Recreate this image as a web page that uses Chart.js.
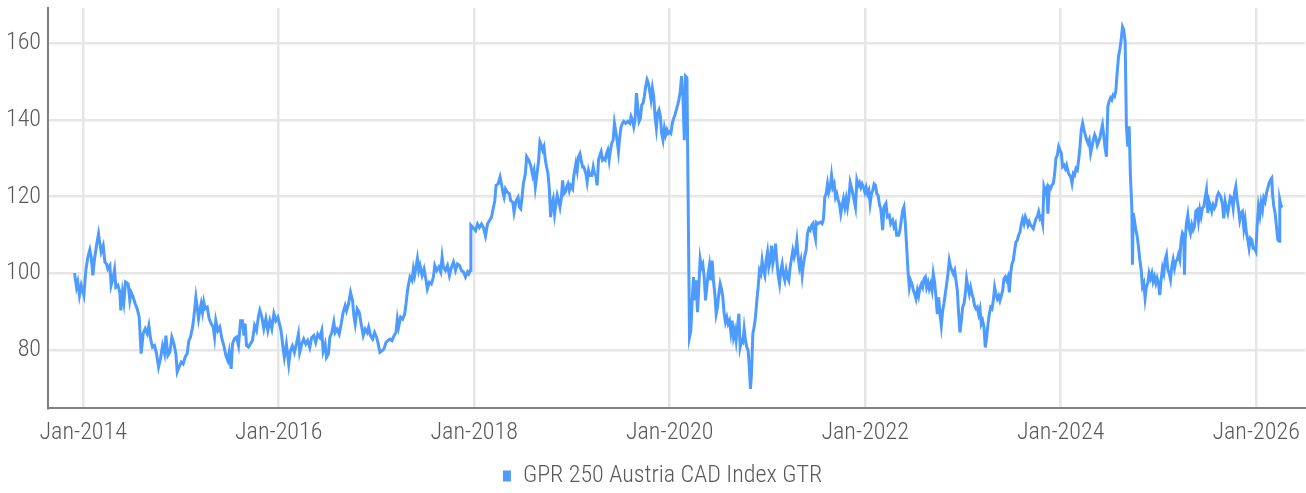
<!DOCTYPE html>
<html>
<head>
<meta charset="utf-8">
<script src="https://cdn.jsdelivr.net/npm/chart.js@4/dist/chart.umd.min.js"></script>
<style>
  html, body { margin: 0; padding: 0; background: #fff; }
  #chart { display: block; }
</style>
</head>
<body>
<canvas id="chart" width="1306" height="493"></canvas>
<script>
// GPR 250 Austria CAD Index GTR (x = decimal year)
const seriesName = 'GPR 250 Austria CAD Index GTR';

const dateYears = [
  2013.911, 2013.932, 2013.945, 2013.962, 2013.980, 2013.993, 2014.007, 2014.027, 2014.048, 2014.068,
  2014.082, 2014.099, 2014.116, 2014.136, 2014.157, 2014.171, 2014.184, 2014.205, 2014.222, 2014.239,
  2014.252, 2014.273, 2014.286, 2014.304, 2014.321, 2014.334, 2014.355, 2014.375, 2014.385, 2014.402,
  2014.416, 2014.433, 2014.460, 2014.477, 2014.491, 2014.512, 2014.532, 2014.552, 2014.573, 2014.593,
  2014.614, 2014.634, 2014.655, 2014.672, 2014.689, 2014.709, 2014.730, 2014.750, 2014.771, 2014.791,
  2014.812, 2014.832, 2014.846, 2014.866, 2014.887, 2014.907, 2014.928, 2014.948, 2014.962, 2014.982,
  2015.003, 2015.023, 2015.043, 2015.064, 2015.081, 2015.098, 2015.119, 2015.132, 2015.153, 2015.166,
  2015.180, 2015.194, 2015.207, 2015.221, 2015.234, 2015.248, 2015.269, 2015.289, 2015.310, 2015.330,
  2015.344, 2015.357, 2015.378, 2015.398, 2015.419, 2015.439, 2015.460, 2015.480, 2015.494, 2015.514,
  2015.528, 2015.548, 2015.569, 2015.589, 2015.610, 2015.630, 2015.644, 2015.657, 2015.671, 2015.691,
  2015.712, 2015.732, 2015.753, 2015.773, 2015.794, 2015.807, 2015.828, 2015.848, 2015.869, 2015.889,
  2015.910, 2015.930, 2015.951, 2015.971, 2015.992,
  2016.024, 2016.044, 2016.058, 2016.079, 2016.103, 2016.120, 2016.140, 2016.161, 2016.181, 2016.202,
  2016.215, 2016.236, 2016.256, 2016.277, 2016.297, 2016.318, 2016.338, 2016.359, 2016.379, 2016.400,
  2016.421, 2016.441, 2016.455, 2016.475, 2016.489, 2016.509, 2016.523, 2016.544, 2016.564, 2016.578,
  2016.598, 2016.619, 2016.639, 2016.660, 2016.680, 2016.694, 2016.715, 2016.735, 2016.756, 2016.769,
  2016.783, 2016.803, 2016.824, 2016.844, 2016.865, 2016.885, 2016.906, 2016.920, 2016.940, 2016.961,
  2016.981, 2017.002, 2017.015, 2017.036, 2017.056, 2017.077, 2017.097, 2017.118, 2017.139, 2017.159,
  2017.180, 2017.200, 2017.214, 2017.227, 2017.248, 2017.268, 2017.289, 2017.303, 2017.316, 2017.330,
  2017.344, 2017.364, 2017.378, 2017.391, 2017.405, 2017.419, 2017.433, 2017.446, 2017.467, 2017.487,
  2017.508, 2017.521, 2017.542, 2017.562, 2017.583, 2017.597, 2017.617, 2017.638, 2017.658, 2017.672,
  2017.685, 2017.706, 2017.727, 2017.747, 2017.768, 2017.788, 2017.809, 2017.829, 2017.850, 2017.870,
  2017.891, 2017.911, 2017.932, 2017.945, 2017.959, 2017.966,
  2018.014, 2018.034, 2018.054, 2018.075, 2018.095, 2018.116, 2018.136, 2018.156, 2018.177, 2018.190,
  2018.211, 2018.224, 2018.245, 2018.265, 2018.279, 2018.293, 2018.306, 2018.320, 2018.340, 2018.361,
  2018.374, 2018.395, 2018.408, 2018.429, 2018.449, 2018.463, 2018.476, 2018.490, 2018.503, 2018.524,
  2018.537, 2018.558, 2018.578, 2018.599, 2018.612, 2018.626, 2018.639, 2018.660, 2018.673, 2018.687,
  2018.701, 2018.714, 2018.728, 2018.741, 2018.755, 2018.769, 2018.782, 2018.796, 2018.809, 2018.823,
  2018.837, 2018.850, 2018.864, 2018.878, 2018.891, 2018.905, 2018.918, 2018.932, 2018.946, 2018.959,
  2018.973, 2018.986, 2019.007, 2019.020, 2019.041, 2019.054, 2019.068, 2019.082, 2019.095, 2019.109,
  2019.122, 2019.143, 2019.156, 2019.170, 2019.184, 2019.204, 2019.218, 2019.231, 2019.245, 2019.258,
  2019.272, 2019.286, 2019.299, 2019.313, 2019.326, 2019.340, 2019.354, 2019.367, 2019.381, 2019.394,
  2019.408, 2019.422, 2019.435, 2019.449, 2019.462, 2019.476, 2019.490, 2019.503, 2019.517, 2019.531,
  2019.551, 2019.571, 2019.592, 2019.605, 2019.619, 2019.633, 2019.646, 2019.660, 2019.673, 2019.687,
  2019.701, 2019.714, 2019.728, 2019.741, 2019.755, 2019.769, 2019.782, 2019.796, 2019.809, 2019.823,
  2019.837, 2019.850, 2019.864, 2019.878, 2019.891, 2019.905, 2019.918, 2019.932, 2019.946, 2019.959,
  2019.973, 2019.986, 2020.000, 2020.013, 2020.027, 2020.041, 2020.054, 2020.068, 2020.082, 2020.095,
  2020.109, 2020.122, 2020.136, 2020.150, 2020.163, 2020.177,
  2020.203, 2020.217, 2020.230, 2020.244, 2020.257, 2020.271, 2020.285, 2020.298, 2020.312, 2020.326,
  2020.339, 2020.353, 2020.367, 2020.380, 2020.394, 2020.407, 2020.421, 2020.435, 2020.448, 2020.462,
  2020.476, 2020.489, 2020.503, 2020.517, 2020.530, 2020.544, 2020.558, 2020.571, 2020.585, 2020.598,
  2020.612, 2020.626, 2020.639, 2020.653, 2020.667, 2020.680, 2020.694, 2020.708, 2020.721, 2020.735,
  2020.749, 2020.762, 2020.776, 2020.789, 2020.803, 2020.817, 2020.827, 2020.837, 2020.851, 2020.864,
  2020.878, 2020.892, 2020.905, 2020.919, 2020.933, 2020.946, 2020.960, 2020.974, 2020.987, 2021.001,
  2021.014, 2021.028, 2021.042, 2021.055, 2021.069, 2021.083, 2021.096, 2021.110, 2021.124, 2021.137,
  2021.151, 2021.165, 2021.178, 2021.192, 2021.205, 2021.219, 2021.233, 2021.246, 2021.260, 2021.274,
  2021.287, 2021.301, 2021.315, 2021.328, 2021.342, 2021.356, 2021.369, 2021.383, 2021.396, 2021.410,
  2021.424, 2021.437, 2021.451, 2021.465, 2021.478, 2021.492, 2021.499, 2021.519, 2021.540, 2021.560,
  2021.574, 2021.587, 2021.601, 2021.615, 2021.628, 2021.642, 2021.656, 2021.669, 2021.683, 2021.697,
  2021.710, 2021.724, 2021.737, 2021.751, 2021.765, 2021.778, 2021.792, 2021.806, 2021.819, 2021.833,
  2021.847, 2021.860, 2021.874, 2021.887, 2021.901, 2021.915, 2021.928, 2021.942, 2021.956, 2021.969,
  2021.983, 2021.997, 2022.010, 2022.024, 2022.038, 2022.051, 2022.065, 2022.078, 2022.092, 2022.106,
  2022.119, 2022.133, 2022.147, 2022.160,
  2022.179, 2022.193, 2022.213, 2022.227, 2022.247, 2022.261, 2022.281, 2022.295, 2022.309, 2022.322,
  2022.343, 2022.356, 2022.370, 2022.384, 2022.397, 2022.411, 2022.425, 2022.438, 2022.452, 2022.465,
  2022.479, 2022.493, 2022.506, 2022.520, 2022.534, 2022.547, 2022.561, 2022.575, 2022.588, 2022.602,
  2022.616, 2022.629, 2022.643, 2022.656, 2022.670, 2022.684, 2022.697, 2022.711, 2022.725, 2022.738,
  2022.752, 2022.766, 2022.779, 2022.793, 2022.806, 2022.820, 2022.834, 2022.847, 2022.861, 2022.875,
  2022.888, 2022.902, 2022.916, 2022.929, 2022.943, 2022.957, 2022.970, 2022.984, 2022.997, 2023.011,
  2023.025, 2023.038, 2023.052, 2023.066, 2023.079, 2023.093, 2023.107, 2023.120, 2023.134, 2023.147,
  2023.161, 2023.175, 2023.188, 2023.202, 2023.216, 2023.229, 2023.243, 2023.257, 2023.270, 2023.284,
  2023.298, 2023.311, 2023.325, 2023.338, 2023.352, 2023.366, 2023.379, 2023.393, 2023.407, 2023.420,
  2023.434, 2023.448, 2023.461, 2023.475, 2023.488, 2023.502, 2023.516, 2023.529, 2023.543, 2023.557,
  2023.570, 2023.584, 2023.598, 2023.611, 2023.625, 2023.639, 2023.652, 2023.666, 2023.679, 2023.693,
  2023.707, 2023.720, 2023.734, 2023.748, 2023.761, 2023.775, 2023.789, 2023.802, 2023.816, 2023.829,
  2023.843, 2023.857, 2023.870, 2023.884, 2023.898, 2023.911, 2023.925, 2023.939, 2023.952, 2023.966,
  2023.980, 2023.993, 2024.007, 2024.020, 2024.034, 2024.048, 2024.061, 2024.075, 2024.089, 2024.102,
  2024.116, 2024.130, 2024.143, 2024.157, 2024.171, 2024.184, 2024.198, 2024.211, 2024.225, 2024.239,
  2024.252, 2024.266, 2024.280, 2024.293, 2024.307, 2024.321, 2024.334, 2024.348, 2024.361, 2024.375,
  2024.401, 2024.414, 2024.428, 2024.442, 2024.455, 2024.469, 2024.483, 2024.496, 2024.510, 2024.523,
  2024.537, 2024.551, 2024.564, 2024.578, 2024.592, 2024.605, 2024.619, 2024.633, 2024.646, 2024.660,
  2024.673, 2024.687, 2024.701, 2024.714, 2024.728, 2024.735, 2024.742, 2024.755, 2024.769, 2024.783,
  2024.796, 2024.810, 2024.824, 2024.837, 2024.851, 2024.864, 2024.878, 2024.892, 2024.905, 2024.919,
  2024.933, 2024.946, 2024.960, 2024.974, 2024.987, 2025.001, 2025.014, 2025.028, 2025.042, 2025.055,
  2025.069, 2025.083, 2025.096, 2025.110, 2025.124, 2025.137, 2025.151, 2025.165, 2025.178, 2025.192,
  2025.205, 2025.219, 2025.233, 2025.246, 2025.260, 2025.267, 2025.274, 2025.287, 2025.301, 2025.315,
  2025.328, 2025.342, 2025.356, 2025.369, 2025.383, 2025.396, 2025.410, 2025.424, 2025.437, 2025.451,
  2025.465, 2025.478, 2025.492, 2025.506, 2025.519, 2025.533, 2025.546, 2025.560, 2025.574, 2025.587,
  2025.601, 2025.615, 2025.628, 2025.642, 2025.656, 2025.669, 2025.683, 2025.697, 2025.710, 2025.724,
  2025.737, 2025.751, 2025.765, 2025.778, 2025.792, 2025.806, 2025.819, 2025.833, 2025.847, 2025.860,
  2025.874, 2025.887, 2025.901, 2025.915, 2025.928, 2025.942, 2025.956, 2025.969, 2025.983, 2025.997,
  2026.010, 2026.024, 2026.038, 2026.051, 2026.065, 2026.078, 2026.092, 2026.106, 2026.119, 2026.133,
  2026.147, 2026.160, 2026.167, 2026.181, 2026.194, 2026.208, 2026.222, 2026.235, 2026.242, 2026.256,
  2026.269
];

const indexValues = [
  100.0, 96.3, 97.7, 94.2, 96.8, 95.5, 94.2, 100.7, 104.2, 106.1,
  104.2, 99.4, 103.7, 107.2, 110.3, 107.7, 105.5, 107.2, 102.9, 102.4,
  101.1, 102.0, 96.8, 98.5, 100.9, 96.3, 96.8, 95.0, 90.3, 95.0,
  92.4, 97.7, 97.2, 92.9, 95.0, 93.7, 92.0, 90.7, 88.5, 79.0,
  84.2, 85.5, 84.2, 86.3, 82.9, 80.7, 81.1, 79.0, 75.5, 77.7,
  81.1, 79.0, 83.7, 78.5, 79.4, 83.3, 81.6, 79.0, 74.2, 75.5,
  76.8, 76.3, 78.1, 79.0, 82.4, 83.3, 85.9, 88.5, 93.7, 91.1,
  88.1, 90.3, 92.0, 89.8, 92.4, 90.7, 91.1, 88.1, 86.8, 85.9,
  83.3, 87.6, 85.0, 85.9, 82.9, 81.1, 78.5, 77.2, 79.4, 75.0,
  81.6, 82.9, 83.3, 81.1, 87.6, 87.6, 83.7, 86.8, 81.1, 80.7,
  81.6, 82.4, 86.3, 85.0, 88.9, 90.3, 88.5, 85.5, 88.1, 85.0,
  87.6, 85.5, 89.4, 87.6, 88.5,
  85.0, 80.6, 78.0, 81.5, 76.2, 79.7, 81.0, 79.3, 81.5, 84.1,
  79.3, 81.5, 82.8, 81.5, 82.4, 80.6, 83.2, 83.7, 81.9, 84.1,
  83.2, 85.0, 79.7, 81.5, 78.0, 78.9, 83.2, 84.5, 87.2, 84.5,
  85.4, 84.1, 86.7, 89.8, 91.5, 90.2, 92.0, 95.0, 92.8, 88.9,
  86.7, 90.7, 89.8, 86.7, 83.7, 85.4, 84.5, 85.9, 83.7, 82.8,
  84.5, 83.2, 81.9, 79.3, 79.7, 80.2, 81.9, 82.4, 82.8, 82.4,
  83.7, 84.5, 88.0, 85.9, 88.5, 88.0, 89.3, 92.0, 95.0, 97.2,
  99.0, 98.1, 101.1, 99.4, 101.6, 103.8, 100.7, 102.0, 99.4, 101.1,
  98.1, 95.9, 97.6, 97.2, 99.0, 102.0, 100.7, 101.6, 100.3, 104.2,
  101.6, 100.7, 102.0, 99.4, 101.6, 102.9, 100.7, 102.4, 102.0, 100.7,
  100.3, 99.0, 100.3, 99.8, 100.7, 112.5,
  111.1, 112.8, 111.9, 112.8, 111.9, 109.7, 112.8, 113.7, 114.6, 116.3,
  118.9, 122.9, 123.3, 125.1, 123.3, 121.1, 119.8, 122.0, 121.1, 120.7,
  118.9, 118.5, 115.9, 118.9, 119.8, 117.2, 116.8, 119.8, 123.3, 126.0,
  130.4, 129.5, 128.2, 125.5, 126.8, 122.5, 125.1, 129.5, 134.3, 133.4,
  132.1, 133.0, 129.5, 127.7, 126.0, 122.0, 114.6, 118.1, 119.4, 115.4,
  118.1, 120.3, 118.9, 117.2, 119.4, 124.2, 120.7, 121.1, 122.5, 123.3,
  121.6, 122.9, 122.0, 125.5, 128.6, 126.8, 130.4, 131.2, 129.5, 127.7,
  127.7, 126.0, 123.8, 126.8, 125.5, 125.5, 127.7, 126.0, 125.5, 122.9,
  129.5, 130.8, 131.7, 129.5, 129.9, 129.5, 131.2, 132.1, 129.5, 132.1,
  133.9, 134.7, 139.1, 136.9, 134.7, 131.7, 135.6, 138.2, 139.1, 139.6,
  139.1, 139.6, 139.1, 140.9, 140.0, 138.2, 140.0, 147.0, 143.5, 139.6,
  140.4, 143.9, 144.4, 146.1, 148.8, 150.5, 149.6, 147.5, 145.3, 148.3,
  146.1, 140.9, 137.8, 141.8, 142.6, 140.9, 136.5, 134.7, 137.8, 136.1,
  137.4, 136.5, 136.9, 136.5, 139.1, 140.4, 141.3, 142.6, 143.9, 145.3,
  147.5, 151.4, 146.1, 134.7, 151.4, 151.0,
  83.3, 85.0, 92.9, 99.0, 92.9, 98.1, 89.8, 96.3, 103.7, 101.6,
  102.4, 99.0, 92.9, 96.3, 99.8, 102.0, 98.1, 103.3, 98.1, 94.6,
  89.4, 91.1, 94.6, 97.2, 95.9, 93.7, 89.4, 87.2, 88.5, 86.8,
  87.6, 84.6, 87.6, 83.3, 85.0, 82.4, 85.9, 89.4, 80.7, 82.4,
  82.0, 85.5, 82.4, 80.7, 79.8, 74.6, 69.8, 73.7, 84.2, 85.9,
  88.5, 92.9, 96.3, 100.7, 99.8, 103.3, 100.7, 99.4, 103.3, 105.5,
  101.6, 103.3, 107.2, 102.4, 104.2, 107.7, 103.3, 99.4, 97.2, 100.7,
  102.4, 99.4, 98.1, 100.7, 99.0, 98.1, 101.6, 103.7, 105.9, 104.2,
  105.5, 108.5, 104.2, 101.6, 103.3, 99.4, 102.4, 104.6, 105.9, 110.3,
  111.6, 111.2, 112.4, 112.9, 110.7, 109.0, 113.3, 112.9, 113.3, 112.9,
  114.2, 119.8, 120.7, 123.3, 121.1, 122.4, 125.5, 122.4, 123.3, 119.8,
  120.7, 119.0, 118.1, 115.5, 117.7, 119.4, 117.2, 119.4, 117.2, 119.8,
  123.7, 122.4, 120.7, 119.0, 117.2, 124.2, 122.9, 123.7, 122.4, 123.3,
  122.4, 121.1, 122.4, 120.7, 121.6, 118.1, 120.7, 121.6, 123.3, 122.9,
  120.7, 120.3, 117.7, 116.8,
  111.2, 117.3, 118.2, 114.7, 115.1, 112.9, 113.8, 112.1, 112.9, 109.9,
  109.9, 111.2, 113.8, 116.4, 117.3, 112.9, 106.8, 100.7, 96.3, 98.1,
  97.2, 95.5, 94.6, 93.3, 95.5, 94.1, 96.3, 97.2, 96.3, 98.5,
  99.0, 96.3, 97.6, 95.9, 97.2, 95.5, 99.8, 97.6, 93.7, 89.3,
  93.7, 89.3, 86.3, 90.2, 92.0, 94.6, 97.2, 99.8, 103.3, 101.6,
  100.7, 99.8, 100.7, 98.1, 95.5, 89.3, 84.5, 87.6, 91.1, 92.0,
  94.6, 98.5, 96.3, 94.6, 96.3, 94.6, 93.3, 91.5, 90.7, 91.1,
  89.3, 90.7, 86.7, 87.6, 85.9, 80.6, 83.2, 86.7, 89.3, 91.1,
  90.7, 92.8, 96.3, 94.6, 93.3, 94.1, 92.8, 94.1, 95.5, 98.5,
  99.0, 98.1, 99.0, 95.0, 99.8, 102.4, 103.3, 105.9, 108.1, 108.6,
  109.9, 110.7, 112.9, 114.2, 112.9, 114.7, 113.8, 112.5, 113.4, 112.5,
  112.1, 111.6, 112.9, 114.2, 114.7, 116.0, 114.2, 114.7, 112.9, 122.5,
  121.2, 122.1, 115.5, 122.5, 122.1, 123.0, 123.4, 126.0, 130.0, 130.8,
  133.0, 132.1, 131.3, 127.8, 128.2, 127.3, 128.2, 126.5, 125.6, 125.2,
  123.4, 126.0, 125.6, 127.3, 126.9, 129.5, 133.0, 137.4, 139.1, 137.4,
  136.1, 134.8, 133.9, 134.8, 131.3, 133.0, 134.8, 136.1, 135.2, 133.4,
  135.2, 137.0, 138.7, 135.7, 132.6, 130.4, 143.5, 144.8, 145.7, 145.2,
  146.5, 146.1, 147.4, 152.2, 156.5, 158.3, 160.9, 164.3, 163.5, 160.4,
  138.3, 133.0, 138.3, 125.2, 117.4, 102.2, 115.7, 113.9, 111.3, 109.6,
  107.0, 103.5, 100.9, 96.5, 97.4, 93.5, 96.5, 97.4, 100.0, 98.7,
  100.0, 97.8, 99.1, 97.4, 98.7, 97.4, 94.3, 98.3, 101.3, 100.0,
  103.5, 104.8, 100.9, 100.0, 98.3, 101.7, 103.5, 101.3, 103.0, 103.5,
  104.8, 103.5, 108.7, 110.4, 109.6, 99.6, 108.7, 113.0, 115.2, 111.7,
  110.4, 112.6, 111.3, 112.2, 116.1, 116.5, 113.5, 116.5, 114.8, 117.0,
  117.4, 119.6, 121.7, 115.7, 118.7, 117.4, 116.1, 117.8, 117.0, 117.8,
  120.0, 120.9, 120.4, 119.6, 117.8, 114.3, 118.7, 117.0, 115.7, 117.8,
  120.0, 119.6, 117.0, 120.9, 122.6, 119.1, 117.0, 113.9, 115.7, 116.1,
  111.7, 113.9, 110.4, 108.7, 106.5, 109.1, 108.7, 106.5, 106.5, 105.7,
  112.2, 117.4, 115.2, 118.3, 116.5, 119.6, 118.7, 120.9, 122.2, 123.5,
  124.3, 124.8, 120.9, 117.4, 115.7, 112.2, 108.7, 108.3, 119.1, 117.4,
  117.8
];

// axis ticks
const xTickYears = [2014, 2016, 2018, 2020, 2022, 2024, 2026];
const xTickLabels = ['Jan-2014', 'Jan-2016', 'Jan-2018', 'Jan-2020', 'Jan-2022', 'Jan-2024', 'Jan-2026'];
const yTickValues = [80, 100, 120, 140, 160];

const lineColor = '#4d9bff';
const textColor = '#595959';
const tickFont = { family: "'Roboto Condensed', Roboto", size: 24, weight: 300 };

const points = dateYears.map((x, i) => ({ x: x, y: indexValues[i] }));

// the legend in the original sits a little right of the canvas centre
const legendShift = {
  id: 'legendShift',
  afterLayout(chart) {
    chart.legend.left += 10;
    chart.legend.right += 10;
  }
};

const ctx = document.getElementById('chart').getContext('2d');
const chart = new Chart(ctx, {
  type: 'line',
  data: {
    datasets: [{
      label: seriesName,
      data: points,
      borderColor: lineColor,
      backgroundColor: lineColor,
      borderWidth: 3,
      pointRadius: 0,
      tension: 0
    }]
  },
  options: {
    responsive: false,
    animation: false,
    parsing: false,
    layout: { padding: { top: 8, right: 1, left: 0, bottom: -5 } },
    plugins: {
      tooltip: { enabled: false },
      legend: {
        position: 'bottom',
        labels: {
          color: textColor,
          font: tickFont,
          boxWidth: 8,
          boxHeight: 11,
          padding: 10,
          generateLabels(c) {
            const items = Chart.defaults.plugins.legend.labels.generateLabels(c);
            items.forEach(it => { it.lineWidth = 0; });
            return items;
          }
        }
      }
    },
    scales: {
      x: {
        type: 'linear',
        min: 2013.64,
        max: 2026.50,
        afterFit(scale) {
          scale.height = 46;
          scale.paddingLeft = 0;
          scale.paddingRight = 0;
        },
        afterBuildTicks(scale) { scale.ticks = xTickYears.map(v => ({ value: v })); },
        ticks: {
          color: textColor,
          font: tickFont,
          padding: 11,
          autoSkip: false,
          maxRotation: 0,
          callback(value) {
            const i = xTickYears.indexOf(value);
            return i >= 0 ? xTickLabels[i] : '';
          }
        },
        grid: { color: '#e6e6e6', lineWidth: 2.5, drawTicks: false },
        border: { color: '#808080', width: 2 }
      },
      y: {
        min: 64.8,
        max: 169.2,
        afterFit(scale) {
          scale.width = 48;
          scale.paddingTop = 0;
          scale.paddingBottom = 0;
        },
        afterBuildTicks(scale) { scale.ticks = yTickValues.map(v => ({ value: v })); },
        ticks: {
          color: textColor,
          font: tickFont,
          padding: 7
        },
        grid: { color: '#e6e6e6', lineWidth: 2.5, drawTicks: false },
        border: { color: '#808080', width: 2 }
      }
    }
  },
  plugins: [legendShift]
});
</script>
</body>
</html>
